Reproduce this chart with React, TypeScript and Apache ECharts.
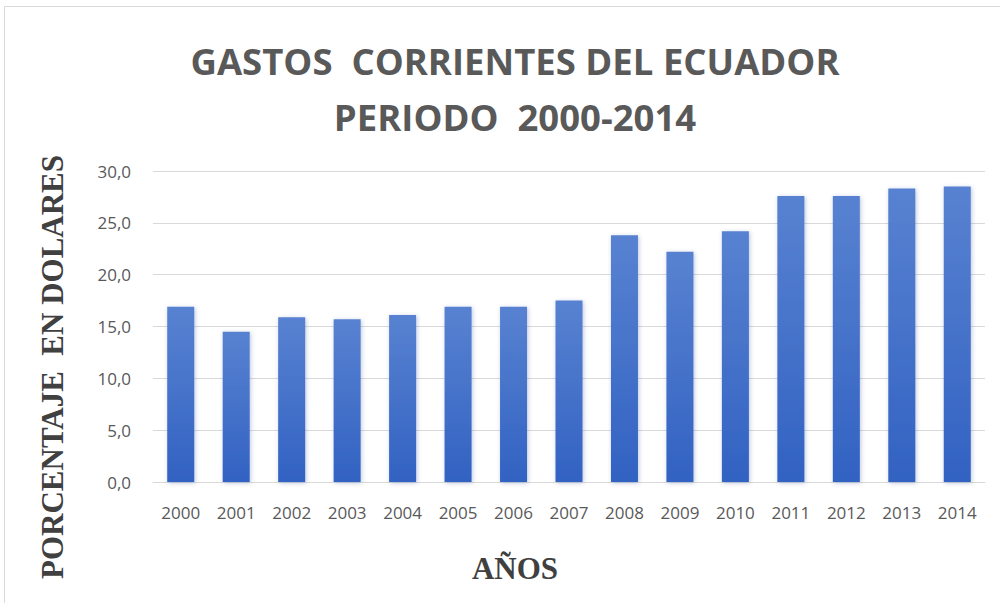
import React, { useEffect, useRef } from "react";
import * as echarts from "echarts";

const years = ["2000", "2001", "2002", "2003", "2004", "2005", "2006", "2007", "2008", "2009", "2010", "2011", "2012", "2013", "2014"];
const gastos = [16.9, 14.5, 15.9, 15.7, 16.1, 16.9, 16.9, 17.5, 23.8, 22.2, 24.2, 27.6, 27.6, 28.3, 28.5];
const titleLines = ["GASTOS  CORRIENTES DEL ECUADOR", "PERIODO  2000-2014"];
const yAxisName = "PORCENTAJE  EN DOLARES";
const xAxisName = "AÑOS";

export default function App() {
  const ref = useRef<HTMLDivElement>(null);
  useEffect(() => {
    if (!ref.current) return;
    const chart = echarts.init(ref.current, undefined, { renderer: "svg" });
    chart.setOption({
      animation: false,
      backgroundColor: "#ffffff",
      title: {
        text: titleLines.join("\n"),
        left: 510,
        top: 28,
        textAlign: "center",
        textStyle: {
          fontFamily: "Open Sans",
          fontWeight: "bold",
          fontSize: 36.5,
          color: "#595959",
          lineHeight: 56,
        },
      },
      grid: { left: 153, right: 15, top: 171, bottom: 121, containLabel: false },
      xAxis: {
        type: "category",
        data: years,
        axisLine: { show: true, lineStyle: { color: "#d9d9d9", width: 1 } },
        axisTick: { show: false },
        axisLabel: { color: "#595959", fontFamily: "Open Sans", fontSize: 17, margin: 22, interval: 0 },
      },
      yAxis: {
        type: "value",
        min: 0,
        max: 30,
        interval: 5,
        axisLine: { show: false },
        axisTick: { show: false },
        splitLine: { lineStyle: { color: "#d9d9d9", width: 1 } },
        axisLabel: {
          color: "#595959",
          fontFamily: "Open Sans",
          fontSize: 17,
          margin: 22,
          formatter: (v: number) => v.toFixed(1).replace(".", ","),
        },
      },
      graphic: [
        {
          type: "rect",
          shape: { x: 4.5, y: 6.5, width: 1100, height: 700 },
          style: { fill: "none", stroke: "#d9d9d9", lineWidth: 1 },
          silent: true,
        },
        {
          type: "text",
          x: 52,
          y: 367,
          rotation: Math.PI / 2,
          style: {
            text: yAxisName,
            fontFamily: "Liberation Serif",
            fontWeight: "bold",
            fontSize: 31,
            fill: "#404040",
            align: "center",
            verticalAlign: "middle",
          },
        },
        {
          type: "text",
          x: 515,
          y: 568,
          style: {
            text: xAxisName,
            fontFamily: "Liberation Serif",
            fontWeight: "bold",
            fontSize: 31,
            fill: "#404040",
            align: "center",
            verticalAlign: "middle",
          },
        },
      ],
      series: [
        {
          type: "bar",
          data: gastos,
          barWidth: 27,
          itemStyle: {
            color: new echarts.graphic.LinearGradient(0, 0, 0, 1, [
              { offset: 0, color: "#5882d1" },
              { offset: 1, color: "#3262c2" },
            ]),
            shadowColor: "rgba(60,90,160,0.35)",
            shadowBlur: 4,
            shadowOffsetX: 1,
            shadowOffsetY: 1,
          },
        },
      ],
    });
    return () => chart.dispose();
  }, []);
  return <div ref={ref} style={{ position: "absolute", left: 0, top: 0, width: 1000, height: 603 }} />;
}
